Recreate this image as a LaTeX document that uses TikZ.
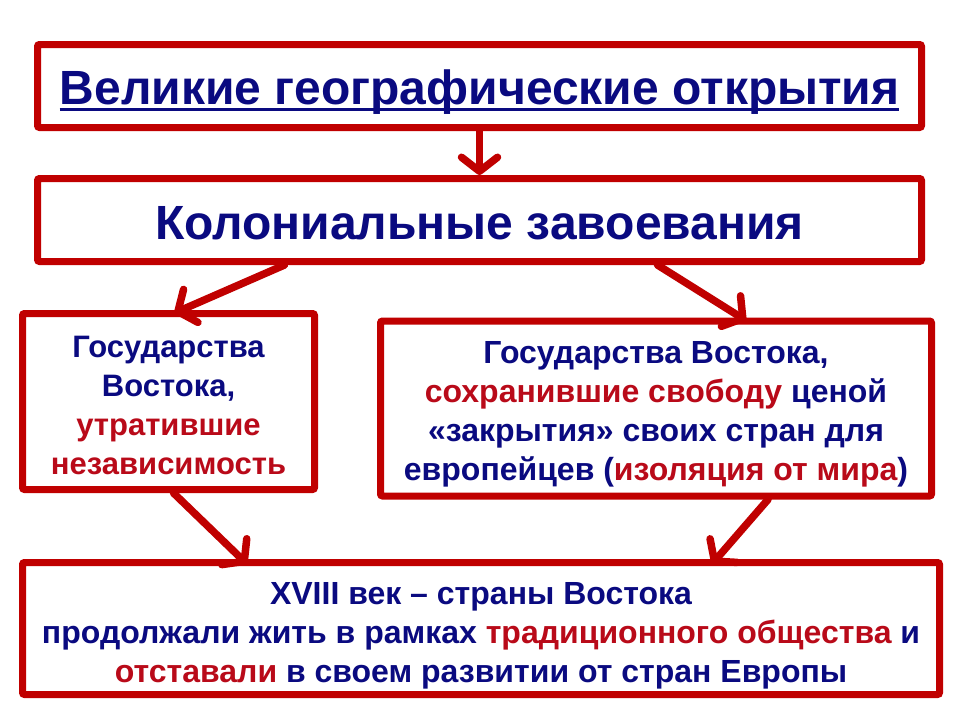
\documentclass[tikz,border=0pt]{standalone}
\usepackage{fontspec}
\setmainfont{Liberation Sans}
\usetikzlibrary{arrows.meta}
\definecolor{tblue}{RGB}{10,10,128}
\definecolor{tred}{RGB}{185,10,25}
\definecolor{bred}{RGB}{192,0,0}
\newcommand{\myul}[1]{\setbox0\hbox{#1}\rlap{\color{tblue}\rule[-7pt]{\wd0}{3.5pt}}\box0}
\newcommand{\rd}[1]{\textcolor{tred}{#1}}
\newcommand{\dn}[2]{\raisebox{#1}[\height][\depth]{#2}}
\newcommand{\tb}[2]{\dn{#1}{\begin{tabular}{@{}c@{}}#2\end{tabular}}}
\tikzset{
  box/.style={draw=bred, line width=7pt, fill=white, rounded corners=2pt, inner sep=0pt, align=center, text=tblue, font=\bfseries},
  arr/.style={draw=bred, line width=7.5pt, line cap=round, -{Straight Barb[length=14pt,width=36pt,round]}}
}
\begin{document}
\begin{tikzpicture}[x=1pt,y=-1pt]
\useasboundingbox[fill=white] (0,0) rectangle (960,720);
\node[box, minimum width=884pt, minimum height=83pt, font=\bfseries\fontsize{48}{52}\selectfont] (b1) at (479.5,86) {\dn{-6pt}{\myul{Великие географические открытия}}};
\node[box, minimum width=884pt, minimum height=83pt, font=\bfseries\fontsize{48}{52}\selectfont] (b2) at (479.5,220) {\dn{-3pt}{Колониальные завоевания}};
\node[box, minimum width=292pt, minimum height=176pt, font=\bfseries\fontsize{31}{39}\selectfont] (bl) at (168.5,401.5) {\tb{-7pt}{Государства\\Востока,\\\rd{утратившие}\\\rd{независимость}}};
\node[box, minimum width=551pt, minimum height=175pt, font=\bfseries\fontsize{32}{39}\selectfont] (br) at (656,408.5) {\tb{-6pt}{Государства Востока,\\\rd{сохранившие свободу} ценой\\«закрытия» своих стран для\\европейцев (\rd{изоляция от мира})}};
\node[box, minimum width=917pt, minimum height=132pt, font=\bfseries\fontsize{32}{39}\selectfont] (bb) at (481,628.5) {\tb{-7pt}{XVIII век – страны Востока\\продолжали жить в рамках \rd{традиционного общества} и\\\rd{отставали} в своем развитии от стран Европы}};
\draw[arr] (b1.south) -- (b2.north);
\draw[arr] ([xshift=-195pt]b2.south) -- ([xshift=6pt,yshift=-3pt]bl.north);
\draw[arr] ([xshift=178pt]b2.south) -- ([xshift=90pt,yshift=-3pt]br.north);
\draw[arr] ([xshift=5pt]bl.south) -- ([xshift=-234pt,yshift=-5pt]bb.north);
\draw[arr] ([xshift=112pt]br.south) -- ([xshift=231pt,yshift=-5pt]bb.north);
\end{tikzpicture}
\end{document}
